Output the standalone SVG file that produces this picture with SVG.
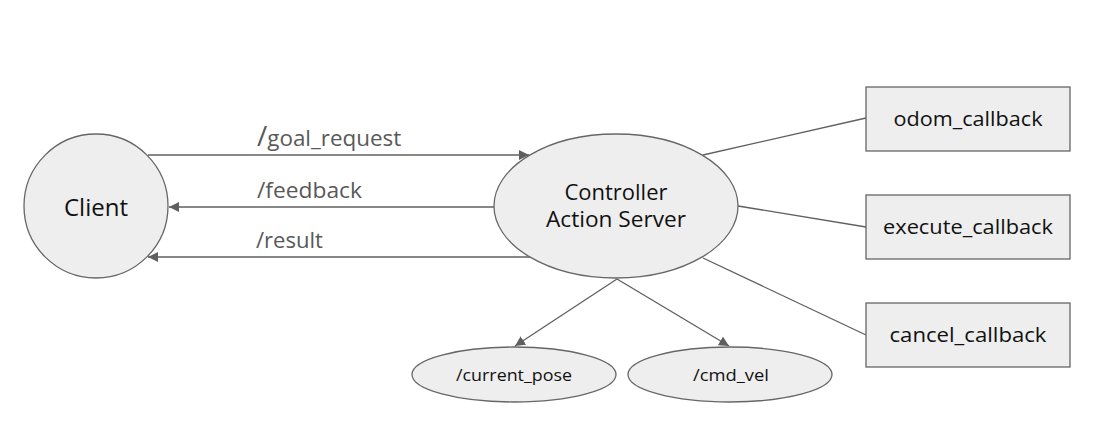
<svg xmlns="http://www.w3.org/2000/svg" width="1098" height="430" viewBox="0 0 1098 430">
<defs>
<style>
.shape{fill:#eeeeee;stroke:#666666;stroke-width:1.3}
.lbl{font-family:"Open Sans","Liberation Sans",sans-serif;fill:#111111;text-anchor:middle}
.edge{stroke:#5f5f5f;stroke-width:1.3;fill:none}
.elbl{font-family:"Open Sans","Liberation Sans",sans-serif;fill:#595959;font-size:22px}
</style>
<marker id="arr" viewBox="0 0 10 10" refX="10" refY="5" markerWidth="10" markerHeight="10" markerUnits="userSpaceOnUse" orient="auto">
<path d="M0,0 L10,5 L0,10 Z" fill="#5f5f5f"/>
</marker>
</defs>
<rect width="1098" height="430" fill="#ffffff"/>
<g id="connectors">
<line class="edge" x1="148" y1="155" x2="529" y2="155" marker-end="url(#arr)"/>
<line class="edge" x1="494" y1="207" x2="169" y2="207" marker-end="url(#arr)"/>
<line class="edge" x1="530" y1="257" x2="148" y2="257" marker-end="url(#arr)"/>
<line class="edge" x1="617" y1="279" x2="515" y2="346" marker-end="url(#arr)"/>
<line class="edge" x1="617" y1="279" x2="729" y2="346" marker-end="url(#arr)"/>
<line class="edge" x1="703" y1="155" x2="866" y2="118"/>
<line class="edge" x1="738" y1="206" x2="866" y2="227"/>
<line class="edge" x1="703" y1="258" x2="866" y2="335"/>
<text class="elbl" x="257" y="146"><tspan font-size="28px">/</tspan><tspan textLength="134" lengthAdjust="spacingAndGlyphs">goal_request</tspan></text>
<text class="elbl" x="257" y="198" textLength="105" lengthAdjust="spacingAndGlyphs">/feedback</text>
<text class="elbl" x="256" y="248" textLength="67" lengthAdjust="spacingAndGlyphs">/result</text>
</g>
<g id="client">
<circle class="shape" cx="96" cy="206" r="72"/>
<text class="lbl" x="96" y="216" font-size="23px" textLength="64" lengthAdjust="spacingAndGlyphs">Client</text>
</g>
<g id="server">
<ellipse class="shape" cx="616" cy="206" rx="122" ry="72"/>
<text class="lbl" x="616" y="200" font-size="21px" textLength="103" lengthAdjust="spacingAndGlyphs">Controller</text>
<text class="lbl" x="616" y="227" font-size="21px" textLength="140" lengthAdjust="spacingAndGlyphs">Action Server</text>
</g>
<g id="odom_callback">
<rect class="shape" x="866" y="87" width="204" height="64"/>
<text class="lbl" x="968" y="126" font-size="20px" textLength="149" lengthAdjust="spacingAndGlyphs">odom_callback</text>
</g>
<g id="execute_callback">
<rect class="shape" x="866" y="195" width="204" height="64"/>
<text class="lbl" x="968" y="234" font-size="20px" textLength="170" lengthAdjust="spacingAndGlyphs">execute_callback</text>
</g>
<g id="cancel_callback">
<rect class="shape" x="866" y="303" width="204" height="64"/>
<text class="lbl" x="968" y="342" font-size="20px" textLength="157" lengthAdjust="spacingAndGlyphs">cancel_callback</text>
</g>
<g id="current_pose">
<ellipse class="shape" cx="514" cy="374.5" rx="102" ry="27.5"/>
<text class="lbl" x="514" y="381" font-size="17px" textLength="116" lengthAdjust="spacingAndGlyphs">/current_pose</text>
</g>
<g id="cmd_vel">
<ellipse class="shape" cx="730" cy="374.5" rx="102" ry="27.5"/>
<text class="lbl" x="731" y="381" font-size="17px" textLength="76" lengthAdjust="spacingAndGlyphs">/cmd_vel</text>
</g>
</svg>
